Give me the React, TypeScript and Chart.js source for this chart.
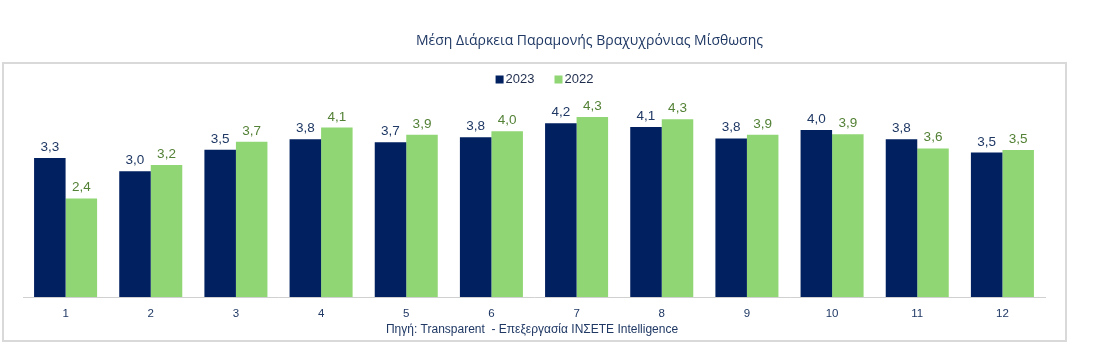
import React, { useEffect, useRef } from "react";
import { Chart, registerables } from "chart.js";

Chart.register(...registerables);

const categories = ["1", "2", "3", "4", "5", "6", "7", "8", "9", "10", "11", "12"];
const seriesLabels = ["2023", "2022"];
const values2023 = [3.33, 3.01, 3.53, 3.78, 3.71, 3.83, 4.16, 4.07, 3.8, 4.0, 3.78, 3.46];
const values2022 = [2.36, 3.16, 3.72, 4.06, 3.89, 3.97, 4.31, 4.26, 3.89, 3.9, 3.56, 3.52];
const titleText = "Μέση Διάρκεια Παραμονής Βραχυχρόνιας Μίσθωσης";
const sourceText = "Πηγή: Transparent  - Επεξεργασία INΣETE Intelligence";

const NAVY = "#002060";
const GREEN = "#90d674";
const NAVY_TEXT = "#1f3864";
const GREEN_TEXT = "#538135";
const FONT = "'Liberation Sans', Arial, sans-serif";

const overlayPlugin = {
  id: "overlay",
  beforeDraw(chart: any) {
    const ctx = chart.ctx;
    ctx.save();
    ctx.fillStyle = "#ffffff";
    ctx.fillRect(0, 0, chart.width, chart.height);
    ctx.strokeStyle = "#d9d9d9";
    ctx.lineWidth = 2;
    ctx.strokeRect(3, 63, 1063, 278);
    ctx.restore();
  },
  afterDatasetsDraw(chart: any) {
    const ctx = chart.ctx;
    ctx.save();
    ctx.font = `13.5px ${FONT}`;
    ctx.textAlign = "center";
    ctx.textBaseline = "bottom";
    chart.data.datasets.forEach((ds: any, di: number) => {
      const meta = chart.getDatasetMeta(di);
      ctx.fillStyle = di === 0 ? NAVY_TEXT : GREEN_TEXT;
      meta.data.forEach((bar: any, i: number) => {
        const v = ds.data[i];
        const txt = v.toFixed(1).replace(".", ",");
        ctx.fillText(txt, bar.x, bar.y - 4);
      });
    });
    ctx.restore();
  },
  afterDraw(chart: any) {
    const ctx = chart.ctx;
    const area = chart.chartArea;
    ctx.save();
    // title
    ctx.font = `14px 'Open Sans', sans-serif`;
    ctx.fillStyle = NAVY_TEXT;
    ctx.textAlign = "center";
    ctx.textBaseline = "middle";
    ctx.fillText(titleText, 589.5, 41.5);
    // legend
    ctx.font = `13px ${FONT}`;
    const items = chart.data.datasets.map((ds: any) => ({
      label: ds.label,
      color: ds.backgroundColor,
      w: ctx.measureText(ds.label).width,
    }));
    const box = 8;
    const gapText = 2;
    const gapItem = 20;
    let total = 0;
    items.forEach((it: any, i: number) => {
      total += box + gapText + it.w + (i < items.length - 1 ? gapItem : 0);
    });
    let x = 544.5 - total / 2;
    const ly = 79.5;
    ctx.textAlign = "left";
    items.forEach((it: any) => {
      ctx.fillStyle = it.color;
      ctx.fillRect(x, ly - box / 2, box, box);
      ctx.fillStyle = "#1f2d4d";
      ctx.fillText(it.label, x + box + gapText, ly);
      x += box + gapText + it.w + gapItem;
    });
    // source
    ctx.font = `12px ${FONT}`;
    ctx.fillStyle = NAVY_TEXT;
    ctx.textAlign = "center";
    ctx.fillText(sourceText, (area.left + area.right) / 2 - 2, 330);
    ctx.restore();
  },
};

export default function App() {
  const ref = useRef<HTMLCanvasElement | null>(null);
  useEffect(() => {
    if (!ref.current) return;
    const chart = new Chart(ref.current, {
      type: "bar",
      data: {
        labels: categories,
        datasets: [
          {
            label: seriesLabels[0],
            data: values2023,
            backgroundColor: NAVY,
            categoryPercentage: 0.74,
            barPercentage: 1,
          },
          {
            label: seriesLabels[1],
            data: values2022,
            backgroundColor: GREEN,
            categoryPercentage: 0.74,
            barPercentage: 1,
          },
        ],
      },
      options: {
        animation: false,
        responsive: false,
        maintainAspectRatio: false,
        layout: { padding: { left: 23, right: 73, top: 88.3, bottom: 28.2 } },
        plugins: {
          legend: { display: false },
          title: { display: false },
          tooltip: { enabled: false },
        },
        scales: {
          x: {
            grid: { display: false, drawTicks: false },
            border: { display: true, color: "#d0d0d0", width: 1 },
            ticks: {
              color: NAVY_TEXT,
              font: { family: FONT, size: 11.5 },
              padding: 10,
            },
          },
          y: {
            display: false,
            min: 0,
            max: 5,
          },
        },
      },
      plugins: [overlayPlugin],
    });
    return () => chart.destroy();
  }, []);
  return (
    <div style={{ position: "absolute", left: 0, top: 0, width: 1118, height: 359, background: "#fff" }}>
      <canvas ref={ref} width={1118} height={359} style={{ width: 1118, height: 359, display: "block" }} />
    </div>
  );
}
